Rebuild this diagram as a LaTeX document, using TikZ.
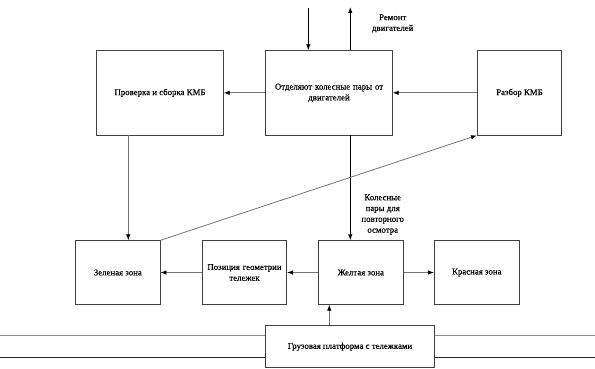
\documentclass[tikz,border=0pt]{standalone}
\usepackage{fontspec}
\setmainfont{Liberation Serif}
\newfontfamily\lblfont{Liberation Serif}[FakeBold=0.35]
\usetikzlibrary{arrows.meta}
\begin{document}
\begin{tikzpicture}[x=1pt,y=-1pt,
  box/.style={draw=black!75,line width=0.8pt,fill=white,inner sep=2pt,align=center,font=\lblfont\fontsize{8.8}{10.8}\selectfont},
  conn/.style={draw=black!55,line width=0.8pt,-{Latex[length=6pt,width=4.5pt,fill=black,color=black]}},
  darkconn/.style={draw=black,line width=0.9pt,-{Latex[length=6pt,width=4.5pt]}},
  rail/.style={line width=0.8pt},
  lbl/.style={align=center,font=\lblfont\fontsize{8.8}{10.8}\selectfont}]
\useasboundingbox (0,0) rectangle (595,369);
\node[box,minimum width=126.6pt,minimum height=84.3pt] (prov) at (160,92.85) {Проверка и сборка КМБ};
\node[box,minimum width=126.6pt,minimum height=84.3pt,text width=120pt] (otd) at (329,92.85) {Отделяют колесные пары от\\двигателей};
\node[box,minimum width=84.4pt,minimum height=84.3pt] (razb) at (519.5,92.85) {Разбор КМБ};
\node[box,minimum width=84.3pt,minimum height=63.6pt] (zel) at (117.85,272.5) {Зеленая зона};
\node[box,minimum width=84.4pt,minimum height=63.6pt,text width=80pt] (poz) at (244.5,272.5) {Позиция геометрии\\тележек};
\node[box,minimum width=85pt,minimum height=63.6pt] (zhel) at (360.8,272.5) {Желтая зона};
\node[box,minimum width=85pt,minimum height=63.6pt] (kras) at (476.8,272.5) {Красная зона};
\node[box,minimum width=168.6pt,minimum height=42pt] (gruz) at (350,346.7) {Грузовая платформа с тележками};
% rails
\coordinate (rl1) at (0,335.7);
\coordinate (rl2) at (0,357);
\coordinate (rr1) at (595,335.7);
\coordinate (rr2) at (595,357);
\draw[rail,draw=black!45] (rl1) -- (rl1 -| gruz.west);
\draw[rail,draw=black!85] (rl2) -- (rl2 -| gruz.west);
\draw[rail,draw=black!45] (rr1 -| gruz.east) -- (rr1);
\draw[rail,draw=black!85] (rr2 -| gruz.east) -- (rr2);
% top connectors
\coordinate (tin) at (308.3,8);
\coordinate (tout) at (350.3,7);
\draw[darkconn] (tin) -- (tin |- otd.north);
\draw[darkconn] (tout |- otd.north) -- (tout);
\node[lbl] (rem) at (392.7,23.5) {Ремонт\\двигателей};
\draw[conn] (otd.west) -- (prov.east);
\draw[conn] (razb.west) -- (otd.east);
\draw[darkconn] (tout |- otd.south) -- (tout |- zhel.north);
\node[lbl] (kol) at (382.7,214.5) {Колесные\\пары для\\повторного\\осмотра};
\coordinate (pv) at (128.3,0);
\draw[conn] (pv |- prov.south) -- (pv |- zel.north);
\draw[conn] (zel.north east) -- (razb.south west);
\draw[conn] (zhel.west) -- (poz.east);
\draw[conn] (poz.west) -- (zel.east);
\draw[conn] (zhel.east) -- (kras.west);
\coordinate (gv) at (329.3,0);
\draw[conn] (gv |- gruz.north) -- (gv |- zhel.south);
\end{tikzpicture}
\end{document}
